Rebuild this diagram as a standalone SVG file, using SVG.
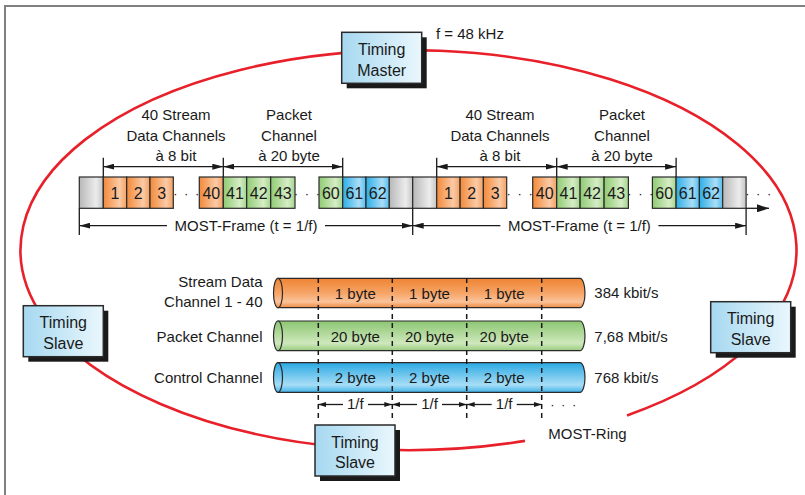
<svg xmlns="http://www.w3.org/2000/svg" width="805" height="495" viewBox="0 0 805 495">
<defs>
<linearGradient id="gOr" x1="0" y1="0" x2="1" y2="0"><stop offset="0" stop-color="#f28a3a"/><stop offset="0.7" stop-color="#fbcaa6"/><stop offset="1" stop-color="#f3a060"/></linearGradient>
<linearGradient id="gGr" x1="0" y1="0" x2="1" y2="0"><stop offset="0" stop-color="#8fcb73"/><stop offset="0.7" stop-color="#d6edc6"/><stop offset="1" stop-color="#a5d48d"/></linearGradient>
<linearGradient id="gBl" x1="0" y1="0" x2="1" y2="0"><stop offset="0" stop-color="#2eaee8"/><stop offset="0.7" stop-color="#a9def7"/><stop offset="1" stop-color="#55bdee"/></linearGradient>
<linearGradient id="gGy" x1="0" y1="0" x2="1" y2="0"><stop offset="0" stop-color="#b8b8b8"/><stop offset="0.7" stop-color="#ececec"/><stop offset="1" stop-color="#c4c4c4"/></linearGradient>
<linearGradient id="cOr" x1="0" y1="0" x2="0" y2="1"><stop offset="0" stop-color="#ee8433"/><stop offset="0.5" stop-color="#f6a466"/><stop offset="0.8" stop-color="#fac39a"/><stop offset="1" stop-color="#ef8a3e"/></linearGradient>
<linearGradient id="cGr" x1="0" y1="0" x2="0" y2="1"><stop offset="0" stop-color="#8cc672"/><stop offset="0.75" stop-color="#cfe8bc"/><stop offset="1" stop-color="#98cc7f"/></linearGradient>
<linearGradient id="cBl" x1="0" y1="0" x2="0" y2="1"><stop offset="0" stop-color="#2ba9e3"/><stop offset="0.75" stop-color="#a7ddf6"/><stop offset="1" stop-color="#42b4ea"/></linearGradient>
<linearGradient id="gBox" x1="0" y1="0" x2="1" y2="0"><stop offset="0" stop-color="#a6d8f0"/><stop offset="1" stop-color="#eaf7fd"/></linearGradient>
<marker id="ah" markerUnits="userSpaceOnUse" markerWidth="11" markerHeight="6" refX="11" refY="3" orient="auto-start-reverse"><path d="M0,0 L11,3 L0,6 z" fill="#1a1a1a"/></marker>
<marker id="ahs" markerUnits="userSpaceOnUse" markerWidth="8" markerHeight="5" refX="8" refY="2.5" orient="auto-start-reverse"><path d="M0,0 L8,2.5 L0,5 z" fill="#1a1a1a"/></marker>
<marker id="ahb" markerUnits="userSpaceOnUse" markerWidth="12" markerHeight="8" refX="12" refY="4" orient="auto"><path d="M0,0 L12,4 L0,8 z" fill="#1a1a1a"/></marker>
</defs>
<style>
text{font-family:"Liberation Sans",Arial,sans-serif;fill:#1a1a1a;font-size:15px}
.m{text-anchor:middle}
.e{text-anchor:end}
.n{text-anchor:middle;font-size:16px}
.cell{stroke:#2a2a2a;stroke-width:1.2}
.or{fill:url(#gOr)} .gr{fill:url(#gGr)} .bl{fill:url(#gBl)} .gy{fill:url(#gGy)}
.ln{stroke:#1a1a1a;stroke-width:1.3;fill:none}
.dash{stroke:#1a1a1a;stroke-width:1.5;stroke-dasharray:5,4;fill:none}
.box{fill:url(#gBox);stroke:#2a2a2a;stroke-width:1.5}
.sh{fill:#1a1a1a}
.bt{font-size:16px;text-anchor:middle}
.cyl{stroke:#2a2a2a;stroke-width:1.2}
.dots{font-size:13px;letter-spacing:1.5px;text-anchor:middle}
</style>
<rect x="0" y="0" width="805" height="495" fill="#ffffff"/>
<path d="M5,495 V6 H805" fill="none" stroke="#808080" stroke-width="2"/>

<g id="ring">
<path d="M627,415.4 A388,200 0 1 0 525,440.9" fill="none" stroke="#e8202a" stroke-width="2.6"/>
<text x="548.3" y="439.3">MOST-Ring</text>
</g>

<g id="timing-master">
<rect class="sh" x="346.7" y="37.3" width="80" height="51"/>
<rect class="box" x="341.7" y="32.3" width="80" height="51"/>
<text class="bt" x="381.7" y="55">Timing</text>
<text class="bt" x="381.7" y="76">Master</text>
</g>
<text x="436" y="39.3">f = 48 kHz</text>

<g id="timing-slave-left">
<rect class="sh" x="28.3" y="310.7" width="80" height="51"/>
<rect class="box" x="23.3" y="305.7" width="80" height="51"/>
<text class="bt" x="63.3" y="328.3">Timing</text>
<text class="bt" x="63.3" y="348.5">Slave</text>
</g>
<g id="timing-slave-right">
<rect class="sh" x="715.7" y="306.7" width="80" height="51"/>
<rect class="box" x="710.7" y="301.7" width="80" height="51"/>
<text class="bt" x="750.7" y="324.2">Timing</text>
<text class="bt" x="750.7" y="344.5">Slave</text>
</g>
<g id="timing-slave-bottom">
<rect class="sh" x="320" y="430" width="80" height="51"/>
<rect class="box" x="315" y="425" width="80" height="51"/>
<text class="bt" x="355" y="448">Timing</text>
<text class="bt" x="355" y="467.5">Slave</text>
</g>

<g id="frame1">
<rect class="cell gy" x="79.3" y="177" width="24" height="31.3"/>
<rect class="cell or" x="103.3" y="177" width="23.4" height="31.3"/>
<rect class="cell or" x="126.7" y="177" width="23.3" height="31.3"/>
<rect class="cell or" x="150" y="177" width="23.3" height="31.3"/>
<rect class="cell or" x="199.3" y="177" width="24" height="31.3"/>
<rect class="cell gr" x="223.3" y="177" width="23.4" height="31.3"/>
<rect class="cell gr" x="246.7" y="177" width="24" height="31.3"/>
<rect class="cell gr" x="270.7" y="177" width="24.3" height="31.3"/>
<rect class="cell gr" x="319" y="177" width="23.7" height="31.3"/>
<rect class="cell bl" x="342.7" y="177" width="23.3" height="31.3"/>
<rect class="cell bl" x="366" y="177" width="23.3" height="31.3"/>
<rect class="cell gy" x="389.3" y="177" width="23.4" height="31.3"/>
<text class="n" x="115" y="198.5">1</text>
<text class="n" x="138.3" y="198.5">2</text>
<text class="n" x="161.7" y="198.5">3</text>
<text class="dots" x="187" y="198">· · ·</text>
<text class="n" x="211.3" y="198.5">40</text>
<text class="n" x="235" y="198.5">41</text>
<text class="n" x="258.7" y="198.5">42</text>
<text class="n" x="282.8" y="198.5">43</text>
<text class="dots" x="307.7" y="198">· · ·</text>
<text class="n" x="330.8" y="198.5">60</text>
<text class="n" x="354.3" y="198.5">61</text>
<text class="n" x="377.7" y="198.5">62</text>
<text class="m" x="176" y="120">40 Stream</text>
<text class="m" x="176" y="141">Data Channels</text>
<text class="m" x="176" y="161">à 8 bit</text>
<text class="m" x="289" y="120">Packet</text>
<text class="m" x="289" y="141">Channel</text>
<text class="m" x="289" y="161">à 20 byte</text>
<text class="m" x="246" y="230.5">MOST-Frame (t = 1/f)</text>
</g>

<g id="frame2">
<rect class="cell gy" x="412.7" y="177" width="24" height="31.3"/>
<rect class="cell or" x="436.7" y="177" width="23.4" height="31.3"/>
<rect class="cell or" x="460.1" y="177" width="23.3" height="31.3"/>
<rect class="cell or" x="483.4" y="177" width="23.3" height="31.3"/>
<rect class="cell or" x="532.7" y="177" width="24" height="31.3"/>
<rect class="cell gr" x="556.7" y="177" width="23.4" height="31.3"/>
<rect class="cell gr" x="580.1" y="177" width="24" height="31.3"/>
<rect class="cell gr" x="604.1" y="177" width="24.3" height="31.3"/>
<rect class="cell gr" x="652.4" y="177" width="23.7" height="31.3"/>
<rect class="cell bl" x="676.1" y="177" width="23.3" height="31.3"/>
<rect class="cell bl" x="699.4" y="177" width="23.3" height="31.3"/>
<rect class="cell gy" x="722.7" y="177" width="23.4" height="31.3"/>
<text class="n" x="448.4" y="198.5">1</text>
<text class="n" x="471.7" y="198.5">2</text>
<text class="n" x="495.1" y="198.5">3</text>
<text class="dots" x="520.4" y="198">· · ·</text>
<text class="n" x="544.7" y="198.5">40</text>
<text class="n" x="568.4" y="198.5">41</text>
<text class="n" x="592.1" y="198.5">42</text>
<text class="n" x="616.2" y="198.5">43</text>
<text class="dots" x="641.1" y="198">· · ·</text>
<text class="n" x="664.2" y="198.5">60</text>
<text class="n" x="687.7" y="198.5">61</text>
<text class="n" x="711.1" y="198.5">62</text>
<text class="dots" x="759" y="198">· · ·</text>
<text class="m" x="500" y="120">40 Stream</text>
<text class="m" x="500" y="141">Data Channels</text>
<text class="m" x="500" y="161">à 8 bit</text>
<text class="m" x="622" y="120">Packet</text>
<text class="m" x="622" y="141">Channel</text>
<text class="m" x="622" y="161">à 20 byte</text>
<text class="m" x="579.4" y="230.5">MOST-Frame (t = 1/f)</text>
</g>

<g id="cylinders">
<path class="cyl" fill="url(#cOr)" d="M278,278.3 H580 A5,14.7 0 0 1 580,307.7 H278 Z"/>
<ellipse class="cyl" fill="url(#cOr)" cx="278" cy="293" rx="4.5" ry="14.7"/>
<path class="cyl" fill="url(#cGr)" d="M278,321 H580 A5,14.85 0 0 1 580,350.7 H278 Z"/>
<ellipse class="cyl" fill="url(#cGr)" cx="278" cy="335.85" rx="4.5" ry="14.85"/>
<path class="cyl" fill="url(#cBl)" d="M278,362.7 H580 A5,14.8 0 0 1 580,392.3 H278 Z"/>
<ellipse class="cyl" fill="url(#cBl)" cx="278" cy="377.5" rx="4.5" ry="14.8"/>
<text class="m" x="355.3" y="298.5">1 byte</text>
<text class="m" x="429.5" y="298.5">1 byte</text>
<text class="m" x="504.2" y="298.5">1 byte</text>
<text class="m" x="355.3" y="341.5">20 byte</text>
<text class="m" x="429.5" y="341.5">20 byte</text>
<text class="m" x="504.2" y="341.5">20 byte</text>
<text class="m" x="355.3" y="383">2 byte</text>
<text class="m" x="429.5" y="383">2 byte</text>
<text class="m" x="504.2" y="383">2 byte</text>
<text class="e" x="262.5" y="286.7">Stream Data</text>
<text class="e" x="262.5" y="306.7">Channel 1 - 40</text>
<text class="e" x="262.5" y="341.7">Packet Channel</text>
<text class="e" x="262.5" y="383.3">Control Channel</text>
<text x="594.3" y="298.3">384 kbit/s</text>
<text x="594.3" y="341.7">7,68 Mbit/s</text>
<text x="594.3" y="383.3">768 kbit/s</text>
<text class="m" x="355.3" y="409">1/f</text>
<text class="m" x="429.5" y="409">1/f</text>
<text class="m" x="504.2" y="409">1/f</text>
<text class="dots" x="564" y="409">· · ·</text>
</g>

<g id="connectors">
<path class="ln" d="M103.3,157.7 V177 M223.3,157.7 V177 M342.7,157.7 V177"/>
<path class="ln" d="M436.7,157.7 V177 M556.7,157.7 V177 M676.1,157.7 V177"/>
<line class="ln" x1="103.3" y1="166.7" x2="223.3" y2="166.7" marker-start="url(#ah)" marker-end="url(#ah)"/>
<line class="ln" x1="223.3" y1="166.7" x2="342.7" y2="166.7" marker-start="url(#ah)" marker-end="url(#ah)"/>
<line class="ln" x1="436.7" y1="166.7" x2="556.7" y2="166.7" marker-start="url(#ah)" marker-end="url(#ah)"/>
<line class="ln" x1="556.7" y1="166.7" x2="676.1" y2="166.7" marker-start="url(#ah)" marker-end="url(#ah)"/>
<path class="ln" d="M79.3,208.3 V235 M412.7,208.3 V235 M746.1,208.3 V235"/>
<line class="ln" x1="167" y1="225.7" x2="79.3" y2="225.7" marker-end="url(#ah)"/>
<line class="ln" x1="325" y1="225.7" x2="412.7" y2="225.7" marker-end="url(#ah)"/>
<line class="ln" x1="500.4" y1="225.7" x2="412.7" y2="225.7" marker-end="url(#ah)"/>
<line class="ln" x1="658.4" y1="225.7" x2="746.1" y2="225.7" marker-end="url(#ah)"/>
<line class="ln" x1="746.1" y1="208.3" x2="769" y2="208.3" marker-end="url(#ahb)"/>
<path class="dash" d="M318.3,278 V420 M392.3,278 V420 M466.7,278 V420 M541.7,278 V420"/>
<line class="ln" x1="343" y1="404.5" x2="318.3" y2="404.5" marker-end="url(#ahs)"/>
<line class="ln" x1="368" y1="404.5" x2="392.3" y2="404.5" marker-end="url(#ahs)"/>
<line class="ln" x1="417" y1="404.5" x2="392.3" y2="404.5" marker-end="url(#ahs)"/>
<line class="ln" x1="442" y1="404.5" x2="466.7" y2="404.5" marker-end="url(#ahs)"/>
<line class="ln" x1="491.7" y1="404.5" x2="466.7" y2="404.5" marker-end="url(#ahs)"/>
<line class="ln" x1="516.7" y1="404.5" x2="541.7" y2="404.5" marker-end="url(#ahs)"/>
</g>
</svg>
